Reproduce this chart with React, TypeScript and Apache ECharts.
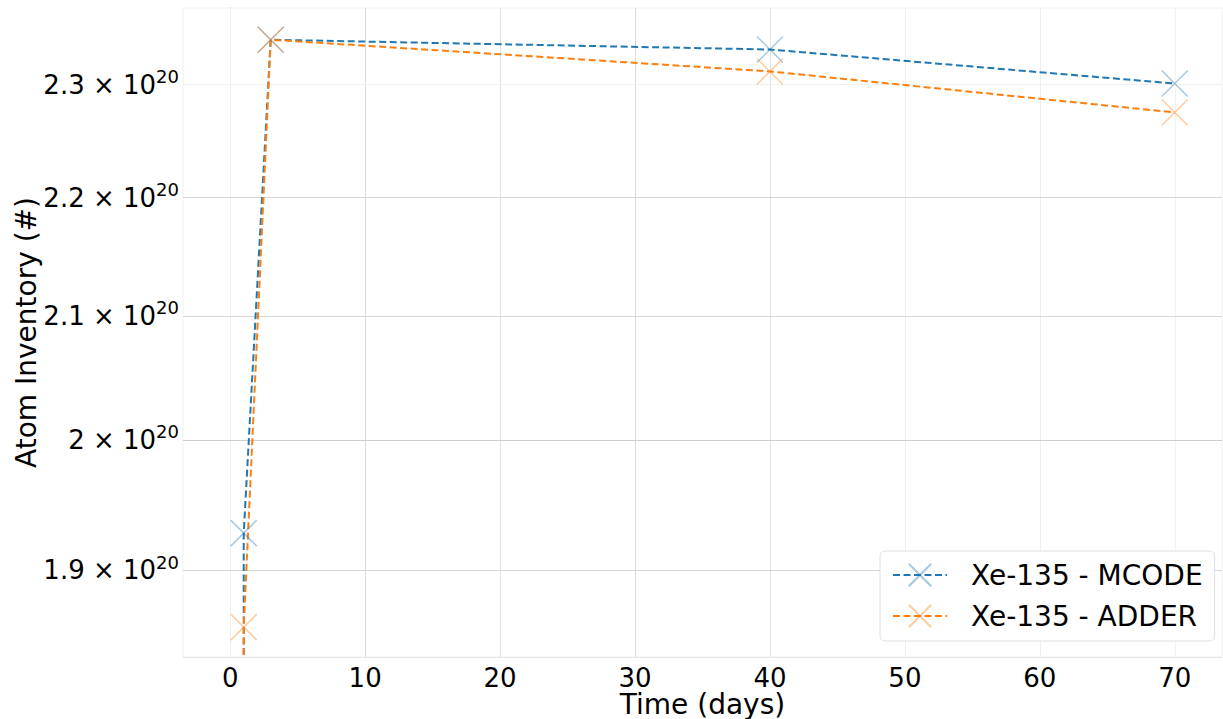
import React, { useEffect, useRef } from "react";
import * as echarts from "echarts";

// ---- data ----
const days = [0, 1, 3, 40, 70];
const mcodeValues = [0, 1.928e20, 2.341e20, 2.332e20, 2.301e20];
const adderValues = [0, 1.858e20, 2.341e20, 2.312e20, 2.275e20];
const seriesNames = ["Xe-135 - MCODE", "Xe-135 - ADDER"];
const xTicks = [0, 10, 20, 30, 40, 50, 60, 70];
const yTicks = [1.9e20, 2.0e20, 2.1e20, 2.2e20, 2.3e20];
const yTickMantissa = ["1.9", "2", "2.1", "2.2", "2.3"];
const yTickExponent = "20";
const xRange = [-3.5, 73.5];
const yRange = [1.8363e20, 2.3704e20];
const xTitle = "Time (days)";
const yTitle = "Atom Inventory (#)";

// ---- styles ----
const vGridColors = ["#f0f0f0", "#dadada", "#e2e2e2", "#dadada", "#e4e4e4", "#eeeeee", "#eeeeee", "#f2f2f2"];
const hGridColors = ["#d6d6d6", "#cfcfcf", "#d6d6d6", "#d6d6d6", "#f0f0f0"];
const FONT = "DejaVu Sans";

// matplotlib-like log transform (non-positive values clipped to a tiny number)
const lg = (v: number) => Math.log10(v > 0 ? v : 1e-300);

const X_SYMBOL = "path://M0,0L10,10M10,0L0,10";

export default function App() {
  const ref = useRef<HTMLDivElement>(null);

  useEffect(() => {
    if (!ref.current) return;
    const chart = echarts.init(ref.current, undefined, { renderer: "svg" });

    const yTickLog = yTicks.map(lg);
    const labelFor = (v: number) => {
      let best = 0;
      let bd = Infinity;
      yTickLog.forEach((t, i) => {
        const d = Math.abs(t - v);
        if (d < bd) {
          bd = d;
          best = i;
        }
      });
      return `{m|${yTickMantissa[best]} × 10}{s|${yTickExponent}}`;
    };

    const mkSeries = (name: string, vals: number[], rgb: string) => ({
      name,
      type: "line",
      z: 3,
      data: days.map((d, i) => [d, lg(vals[i])]),
      clip: true,
      symbol: X_SYMBOL,
      symbolSize: 26,
      showAllSymbol: true,
      lineStyle: { color: `rgb(${rgb})`, width: 2, type: [7, 3.5] },
      itemStyle: {
        color: "rgba(0,0,0,0)",
        borderColor: `rgba(${rgb},0.4)`,
        borderWidth: 1.5,
      },
      emphasis: { disabled: true },
    });

    const option: any = {
      animation: false,
      backgroundColor: "#ffffff",
      textStyle: { fontFamily: FONT },
      grid: {
        left: 183,
        right: 1,
        top: 8,
        bottom: 62,
        containLabel: false,
        outerBoundsMode: "none",
        show: true,
        borderColor: "#f0f0f0",
        borderWidth: 1,
      },
      xAxis: {
        type: "value",
        min: xRange[0],
        max: xRange[1],
        name: xTitle,
        nameLocation: "middle",
        nameGap: 33,
        nameMoveOverlap: false,
        nameTextStyle: { fontFamily: FONT, fontSize: 28, lineHeight: 28, color: "#000" },
        axisLine: { show: true, lineStyle: { color: "#e6e6e6", width: 1 } },
        axisTick: { show: false },
        splitLine: { show: false },
        axisLabel: {
          customValues: xTicks,
          fontFamily: FONT,
          fontSize: 26,
          lineHeight: 22,
          color: "#000",
          margin: 10,
        },
      },
      yAxis: {
        type: "value",
        min: lg(yRange[0]),
        max: lg(yRange[1]),
        name: yTitle,
        nameLocation: "middle",
        nameGap: 143,
        nameMoveOverlap: false,
        nameTextStyle: { fontFamily: FONT, fontSize: 28, color: "#000" },
        axisLine: { show: true, lineStyle: { color: "#c4c4c4", width: 1 } },
        axisTick: { show: false, customValues: yTickLog },
        splitLine: { show: false },
        axisLabel: {
          customValues: yTickLog,
          formatter: (v: number) => labelFor(v),
          margin: 4,
          rich: {
            m: { fontFamily: FONT, fontSize: 26, color: "#000", lineHeight: 34 },
            s: { fontFamily: FONT, fontSize: 18, color: "#000", verticalAlign: "top", lineHeight: 22 },
          },
        },
      },
      legend: {
        data: seriesNames,
        z: 20,
        orient: "vertical",
        left: 880,
        top: 551,
        padding: [10, 12, 11, 12],
        itemGap: 13,
        itemWidth: 54,
        itemHeight: 28,
        backgroundColor: "rgba(255,255,255,0.9)",
        borderColor: "#e0e0e0",
        borderWidth: 1,
        borderRadius: 5,
        textStyle: { fontFamily: FONT, fontSize: 28, lineHeight: 28, color: "#000", padding: [0, 0, 0, 19] },
      },
      series: [
        {
          name: "grid",
          type: "line",
          z: 1,
          data: [],
          silent: true,
          markLine: {
            silent: true,
            z: 1,
            symbol: "none",
            precision: 12,
            animation: false,
            label: { show: false },
            emphasis: { disabled: true },
            data: [
              ...xTicks.map((x, i) => ({ xAxis: x, lineStyle: { color: vGridColors[i], width: 1, type: "solid" } })),
              ...yTicks.map((y, i) => ({ yAxis: lg(y), lineStyle: { color: hGridColors[i], width: 1, type: "solid" } })),
            ],
          },
        },
        mkSeries(seriesNames[0], mcodeValues, "31,119,180"),
        mkSeries(seriesNames[1], adderValues, "255,127,14"),
      ],
    };

    chart.setOption(option);
    return () => chart.dispose();
  }, []);

  return (
    <div
      ref={ref}
      style={{ position: "absolute", left: 0, top: 0, width: 1223, height: 719 }}
    />
  );
}
